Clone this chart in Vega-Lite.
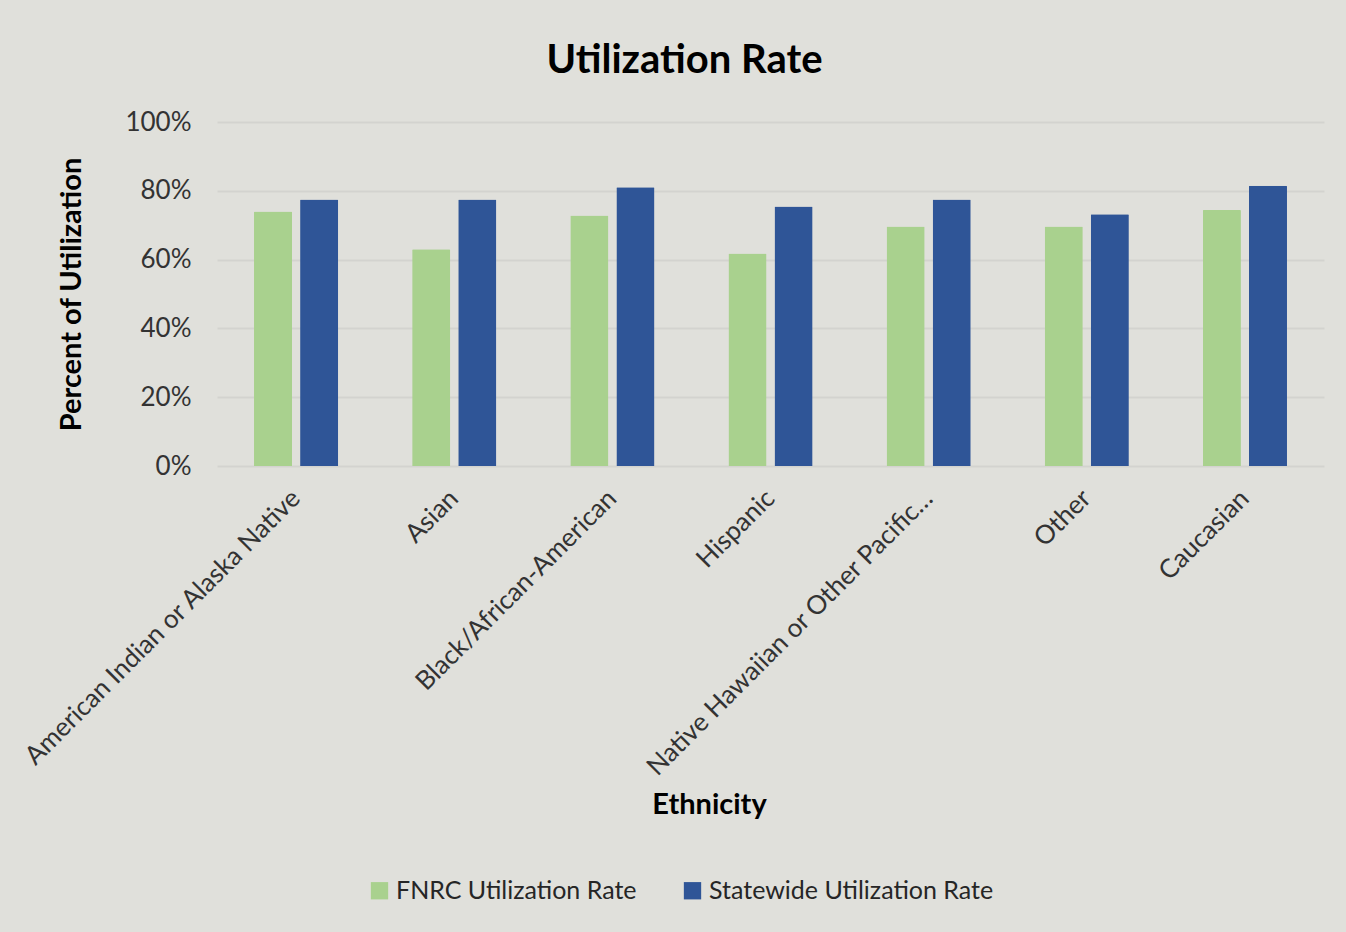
{
  "$schema": "https://vega.github.io/schema/vega-lite/v6.json",
  "width": 1107,
  "height": 344,
  "autosize": {"type": "none"},
  "padding": {"left": 217, "top": 122, "right": 22, "bottom": 466},
  "background": "#e0e0db",
  "title": {
    "text": "Utilization Rate",
    "font": "Lato",
    "fontSize": 40,
    "fontWeight": "bold",
    "color": "#000000",
    "anchor": "middle",
    "dx": -86,
    "offset": 28
  },
  "data": {
    "values": [
      {"ethnicity": "American Indian or Alaska Native", "series": "FNRC Utilization Rate", "rate": 0.74},
      {"ethnicity": "American Indian or Alaska Native", "series": "Statewide Utilization Rate", "rate": 0.775},
      {"ethnicity": "Asian", "series": "FNRC Utilization Rate", "rate": 0.63},
      {"ethnicity": "Asian", "series": "Statewide Utilization Rate", "rate": 0.775},
      {"ethnicity": "Black/African-American", "series": "FNRC Utilization Rate", "rate": 0.728},
      {"ethnicity": "Black/African-American", "series": "Statewide Utilization Rate", "rate": 0.81},
      {"ethnicity": "Hispanic", "series": "FNRC Utilization Rate", "rate": 0.618},
      {"ethnicity": "Hispanic", "series": "Statewide Utilization Rate", "rate": 0.754},
      {"ethnicity": "Native Hawaiian or Other Pacific…", "series": "FNRC Utilization Rate", "rate": 0.696},
      {"ethnicity": "Native Hawaiian or Other Pacific…", "series": "Statewide Utilization Rate", "rate": 0.775},
      {"ethnicity": "Other", "series": "FNRC Utilization Rate", "rate": 0.696},
      {"ethnicity": "Other", "series": "Statewide Utilization Rate", "rate": 0.732},
      {"ethnicity": "Caucasian", "series": "FNRC Utilization Rate", "rate": 0.744},
      {"ethnicity": "Caucasian", "series": "Statewide Utilization Rate", "rate": 0.815}
    ]
  },
  "mark": {"type": "bar", "cornerRadiusTopLeft": 1, "cornerRadiusTopRight": 1},
  "encoding": {
    "x": {
      "field": "ethnicity",
      "type": "nominal",
      "sort": null,
      "scale": {"paddingInner": 0.468, "paddingOuter": 0.234},
      "axis": {
        "title": "Ethnicity",
        "titleFont": "Lato",
        "titleFontSize": 29,
        "titleFontWeight": "bold",
        "titleColor": "#000000",
        "titleX": 492,
        "titleY": 347,
        "titleBaseline": "alphabetic",
        "labelAngle": -45,
        "labelAlign": "right",
        "labelBaseline": "middle",
        "labelFont": "Lato",
        "labelFontSize": 26,
        "labelColor": "#333333",
        "labelPadding": 28,
        "labelLimit": 0,
        "ticks": false,
        "domain": false
      }
    },
    "xOffset": {
      "field": "series",
      "type": "nominal",
      "scale": {"paddingInner": 0.174, "paddingOuter": 0}
    },
    "y": {
      "field": "rate",
      "type": "quantitative",
      "scale": {"domain": [0, 1]},
      "axis": {
        "title": "Percent of Utilization",
        "titleFont": "Lato",
        "titleFontSize": 29,
        "titleFontWeight": "bold",
        "titleColor": "#000000",
        "titlePadding": 38,
        "values": [0, 0.2, 0.4, 0.6, 0.8, 1],
        "format": ".0%",
        "labelFont": "Lato",
        "labelFontSize": 26,
        "labelColor": "#333333",
        "labelPadding": 26,
        "ticks": false,
        "domain": false,
        "grid": true,
        "gridColor": "#d3d3cf",
        "gridWidth": 2
      }
    },
    "color": {
      "field": "series",
      "type": "nominal",
      "scale": {
        "domain": ["FNRC Utilization Rate", "Statewide Utilization Rate"],
        "range": ["#a9d18e", "#2f5597"]
      },
      "legend": {
        "title": null,
        "orient": "none",
        "direction": "horizontal",
        "legendX": 150,
        "legendY": 756,
        "symbolType": "square",
        "symbolSize": 300,
        "symbolStrokeWidth": 0,
        "labelFont": "Lato",
        "labelFontSize": 25,
        "labelColor": "#262626",
        "labelOffset": 4,
        "columnPadding": 43,
        "labelLimit": 0
      }
    }
  },
  "config": {
    "view": {"stroke": null}
  }
}
